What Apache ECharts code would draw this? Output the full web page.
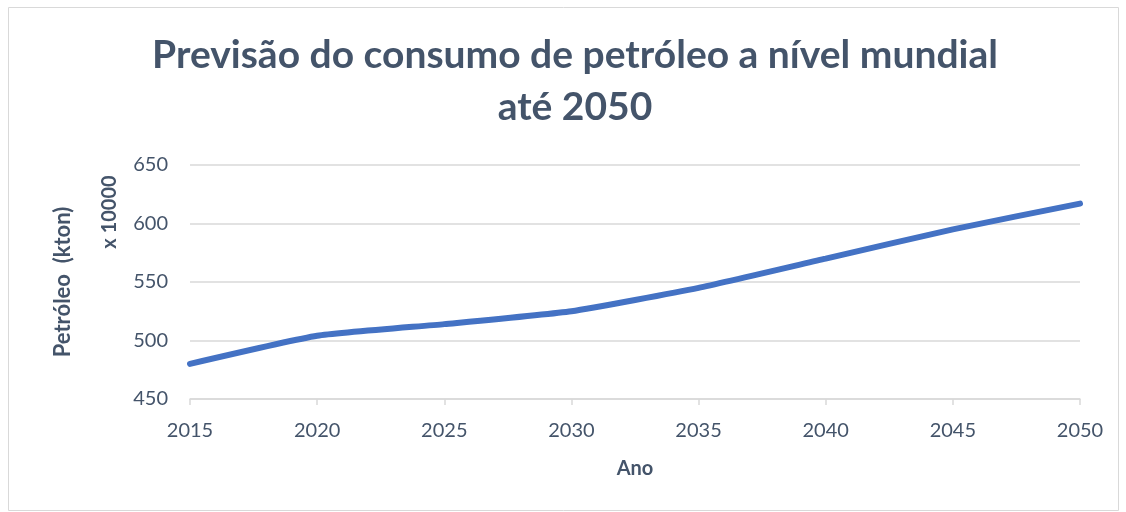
<!DOCTYPE html>
<html>
<head>
<meta charset="utf-8">
<script src="https://cdn.jsdelivr.net/npm/echarts@6/dist/echarts.min.js"></script>
<style>
  html, body { margin: 0; padding: 0; background: #fff; }
  #chart { width: 1126px; height: 512px; }
</style>
</head>
<body>
<div id="chart"></div>
<script>
// dados
const anos = [2015, 2020, 2025, 2030, 2035, 2040, 2045, 2050]
const consumo = [480, 504, 514, 525, 545, 570, 595, 617]
const yTicks = { min: 450, max: 650, step: 50 }
const xTicks = { min: 2015, max: 2050, step: 5 }

const chart = echarts.init(document.getElementById('chart'))

const slate = '#44546A'
const font = 'Lato, "Open Sans", sans-serif'

chart.setOption({
  animation: false,
  title: {
    text: 'Previsão do consumo de petróleo a nível mundial\naté 2050',
    left: 570,
    textAlign: 'center',
    top: 24,
    textStyle: {
      color: slate,
      fontFamily: font,
      fontWeight: 'bold',
      fontSize: 39,
      lineHeight: 52
    }
  },
  graphic: [
    {
      type: 'rect',
      shape: { x: 8.5, y: 7.5, width: 1110, height: 503 },
      style: { fill: 'none', stroke: '#D9D9D9', lineWidth: 1 },
      silent: true
    },
    {
      type: 'text',
      x: 110,
      y: 212,
      rotation: Math.PI / 2,
      style: {
        text: 'x 10000',
        fill: slate,
        font: 'bold 20px ' + font,
        align: 'center',
        verticalAlign: 'middle'
      }
    }
  ],
  grid: { left: 190, right: 46, top: 165, bottom: 113 },
  xAxis: {
    type: 'value',
    min: xTicks.min,
    max: xTicks.max,
    interval: xTicks.step,
    name: 'Ano',
    nameLocation: 'middle',
    nameGap: 60,
    nameTextStyle: { color: slate, fontFamily: font, fontWeight: 'bold', fontSize: 20 },
    axisLine: { lineStyle: { color: '#D9D9D9', width: 1.5 } },
    axisTick: { show: true, length: 6, lineStyle: { color: '#D9D9D9', width: 1.5 } },
    axisLabel: { color: slate, fontFamily: font, fontSize: 20, margin: 22, formatter: v => String(v) },
    splitLine: { show: false }
  },
  yAxis: {
    type: 'value',
    min: yTicks.min,
    max: yTicks.max,
    interval: yTicks.step,
    name: 'Petróleo  (kton)',
    nameLocation: 'middle',
    nameGap: 116,
    nameRotate: 90,
    nameTextStyle: { color: slate, fontFamily: font, fontWeight: 'bold', fontSize: 22 },
    axisLine: { show: false },
    axisTick: { show: false },
    axisLabel: { color: slate, fontFamily: font, fontSize: 20, margin: 22 },
    splitLine: { lineStyle: { color: '#D9D9D9', width: 1.5 } }
  },
  series: [
    {
      type: 'line',
      data: anos.map((a, i) => [a, consumo[i]]),
      smooth: 0.15,
      showSymbol: false,
      lineStyle: { color: '#4472C4', width: 6, cap: 'round' }
    }
  ]
})
</script>
</body>
</html>
